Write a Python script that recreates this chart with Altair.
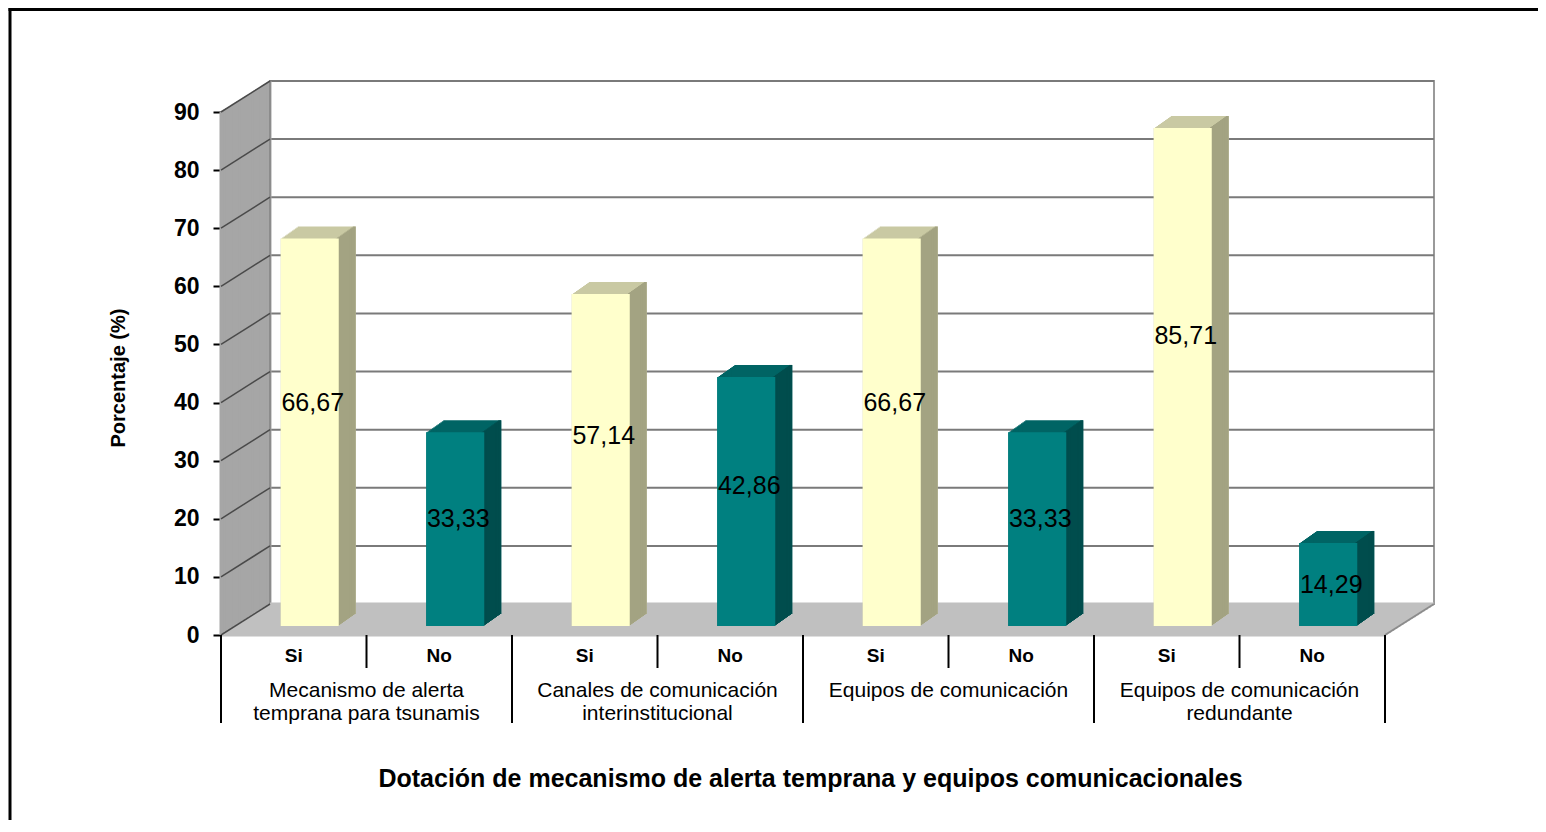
import altair as alt
import pandas as pd

# ---------------- data ----------------
groups = [
    "Mecanismo de alerta\ntemprana para tsunamis",
    "Canales de comunicación\ninterinstitucional",
    "Equipos de comunicación",
    "Equipos de comunicación\nredundante",
]
answers = ["Si", "No"]
si_values = [66.67, 57.14, 66.67, 85.71]
no_values = [33.33, 42.86, 33.33, 14.29]
y_ticks = [0, 10, 20, 30, 40, 50, 60, 70, 80, 90]

rows = []
for i, g in enumerate(groups):
    for a, v in zip(answers, [si_values[i], no_values[i]]):
        rows.append({"key": f"{i}-{a}", "grupo": g, "respuesta": a, "valor": v,
                     "etiqueta": f"{v:.2f}".replace(".", ",")})
df = pd.DataFrame(rows)
keys = list(df["key"])
df_si = df[df["respuesta"] == "Si"]
df_no = df[df["respuesta"] == "No"]
ticks_df = pd.DataFrame({"t": y_ticks})
wall_df = pd.DataFrame({"lo": [0], "hi": [90]})
one_df = pd.DataFrame({"a": [0]})

# ---------------- style / layout ----------------
W, H = 1164, 523
DX, DY = 49, -31          # depth of floor / walls (px)
BX, BY = 16, -9           # bar front face offset (px)
BDX, BDY = 17, -12        # bar depth (px)
BAR_W = 58
FONT = "Liberation Sans"
YEL, YEL_TOP, YEL_SIDE = "#ffffcc", "#c9c9a3", "#a3a382"
TEAL, TEAL_TOP, TEAL_SIDE = "#008080", "#006464", "#004d4d"

yscale = alt.Scale(domain=[0, 90], nice=False, zero=True)
yax = alt.Axis(values=y_ticks, title="Porcentaje (%)", labelFontSize=23, labelFontWeight="bold",
               labelColor="black", tickSize=8, tickWidth=2, tickColor="black",
               domainColor="#505050", domainWidth=2, grid=False, labelPadding=14,
               titleFontSize=20, titleFontWeight="bold", titleColor="black",
               titleX=-103, titleY=H / 2 + 4, titleAngle=270, titleAlign="center",
               titleBaseline="middle")
xscale = alt.Scale(domain=keys, paddingInner=0, paddingOuter=0)
xax = alt.Axis(title="Dotación de mecanismo de alerta temprana y equipos comunicacionales",
               labelExpr="slice(datum.label, 2)", labelAngle=0, labelFontSize=19,
               labelFontWeight="bold", labelColor="black", labelPadding=11, ticks=False,
               domain=False, grid=False, titleFontSize=25, titleFontWeight="bold",
               titleColor="black", titleX=589, titleY=143, titleBaseline="middle")


def X(**kw):
    return alt.X("key:N", scale=xscale, axis=xax, **kw)


def Yf(field):
    return alt.Y(field, scale=yscale, axis=yax)


layers = []

# back wall
layers.append(alt.Chart(wall_df).mark_rect(
    fill="white", stroke="#9a9a9a", strokeWidth=2,
    xOffset=DX, x2Offset=DX, yOffset=DY, y2Offset=DY
).encode(x=alt.value(0), x2=alt.value(W), y=Yf("lo:Q"), y2=alt.Y2("hi:Q")))

# back wall gridlines
layers.append(alt.Chart(ticks_df).mark_rule(
    color="#7a7a7a", strokeWidth=2, xOffset=DX, x2Offset=DX, yOffset=DY
).encode(x=alt.value(0), x2=alt.value(W), y=Yf("t:Q")))

# left wall fill
N = 26
for k in range(N + 1):
    layers.append(alt.Chart(wall_df).mark_rule(
        color="#a6a6a6", strokeWidth=3, xOffset=k * DX / N,
        yOffset=k * DY / N, y2Offset=k * DY / N
    ).encode(x=alt.value(0), y=Yf("lo:Q"), y2=alt.Y2("hi:Q")))

# left wall back edge
layers.append(alt.Chart(wall_df).mark_rule(
    color="#8c8c8c", strokeWidth=2, xOffset=DX, yOffset=DY, y2Offset=DY
).encode(x=alt.value(0), y=Yf("lo:Q"), y2=alt.Y2("hi:Q")))

# floor fill
M = 16
for k in range(M + 1):
    layers.append(alt.Chart(wall_df).mark_rule(
        color="#c0c0c0", strokeWidth=3, xOffset=k * DX / M, x2Offset=k * DX / M,
        yOffset=k * DY / M
    ).encode(x=alt.value(0), x2=alt.value(W), y=Yf("lo:Q")))

# floor right edge
layers.append(alt.Chart(wall_df).mark_rule(
    color="#8c8c8c", strokeWidth=2, y2Offset=DY
).encode(x=alt.value(W), x2=alt.value(W + DX), y=Yf("lo:Q"), y2=alt.Y2("lo:Q")))

# left wall gridlines
layers.append(alt.Chart(ticks_df).mark_rule(
    color="#4a4a4a", strokeWidth=1.5, y2Offset=DY
).encode(x=alt.value(0), x2=alt.value(DX), y=Yf("t:Q"), y2=alt.Y2("t:Q")))

# bars: 3D extrusion (top colour), side strips, front face
K = 12
for k in range(K + 1):
    ox = BX + k * BDX / K
    oy = BY + k * BDY / K
    layers.append(alt.Chart(df).mark_bar(
        width=BAR_W, xOffset=ox, yOffset=oy, y2Offset=oy
    ).encode(x=X(), y=Yf("valor:Q"),
             fill=alt.condition(alt.datum.respuesta == "Si", alt.value(YEL_TOP), alt.value(TEAL_TOP))))
for k in range(K + 1):
    ox = BX + BAR_W / 2 - 1.5 + k * BDX / K
    oy = BY + k * BDY / K
    layers.append(alt.Chart(df).mark_bar(
        width=3, xOffset=ox, yOffset=oy, y2Offset=oy
    ).encode(x=X(), y=Yf("valor:Q"),
             fill=alt.condition(alt.datum.respuesta == "Si", alt.value(YEL_SIDE), alt.value(TEAL_SIDE))))
layers.append(alt.Chart(df).mark_bar(
    width=BAR_W, xOffset=BX, yOffset=BY, y2Offset=BY
).encode(x=X(), y=Yf("valor:Q"),
         fill=alt.condition(alt.datum.respuesta == "Si", alt.value(YEL), alt.value(TEAL))))

# value labels
layers.append(alt.Chart(df).transform_calculate(pos="datum.valor * 0.6").mark_text(
    font=FONT, fontSize=25, color="black", xOffset=BX + 3, align="center", baseline="middle"
).encode(x=X(), y=Yf("pos:Q"), text="etiqueta:N"))

# category separators
layers.append(alt.Chart(df_si).mark_rule(color="black", strokeWidth=2).encode(
    x=X(bandPosition=0), y=alt.value(H), y2=alt.value(H + 88)))
layers.append(alt.Chart(df_no).mark_rule(color="black", strokeWidth=2).encode(
    x=X(bandPosition=0), y=alt.value(H), y2=alt.value(H + 33)))
layers.append(alt.Chart(one_df).mark_rule(color="black", strokeWidth=2).encode(
    x=alt.value(W), y=alt.value(H), y2=alt.value(H + 88)))

# group labels
layers.append(alt.Chart(df_no).mark_text(
    font=FONT, fontSize=21, color="black", align="center", baseline="top",
    lineBreak="\n", lineHeight=23
).encode(x=X(bandPosition=0), y=alt.value(H + 45), text="grupo:N"))

# outer frame
layers.append(alt.Chart(one_df).mark_rule(color="black", strokeWidth=3).encode(
    x=alt.value(-211), y=alt.value(-104), y2=alt.value(H + 400)))
layers.append(alt.Chart(one_df).mark_rule(color="black", strokeWidth=3).encode(
    x=alt.value(-212.5), x2=alt.value(W + 400), y=alt.value(-102.5)))

chart = alt.layer(*layers).properties(
    width=W, height=H,
    autosize=alt.AutoSizeParams(type="none"),
    padding={"left": 213, "top": 104, "right": 153, "bottom": 185},
).configure_view(stroke=None).configure(font=FONT)

chart.save("out.html", embed_options={"renderer": "svg", "actions": False})
